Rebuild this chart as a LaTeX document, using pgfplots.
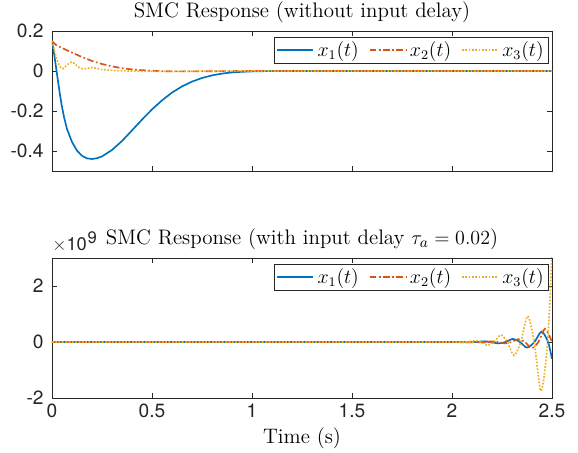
\documentclass[border=0pt]{standalone}
\usepackage{fontspec}
\usepackage{pgfplots}
\pgfplotsset{compat=1.18}
\newfontfamily\heros{TeX Gyre Heros}

\definecolor{mblue}{rgb}{0,0.447,0.741}
\definecolor{mred}{rgb}{0.85,0.325,0.098}
\definecolor{myellow}{rgb}{0.929,0.694,0.125}
\definecolor{axgray}{rgb}{0.15,0.15,0.15}

% state trajectories, no delay
\pgfplotstableread{
t      x1
0      0.15
0.01   0.09
0.02   0.02
0.03  -0.05
0.04  -0.12
0.05  -0.18
0.06  -0.23
0.075 -0.29
0.1   -0.355
0.125 -0.398
0.15  -0.424
0.175 -0.437
0.2   -0.44
0.225 -0.436
0.25  -0.427
0.3   -0.395
0.35  -0.35
0.4   -0.297
0.45  -0.243
0.5   -0.192
0.55  -0.147
0.6   -0.108
0.65  -0.077
0.7   -0.053
0.75  -0.035
0.8   -0.022
0.85  -0.013
0.9   -0.007
0.95  -0.004
1.0   -0.002
1.1    0
2.5    0
}\topxone
\pgfplotstableread{
t     x2
0     0.15
0.02  0.13
0.05  0.115
0.1   0.092
0.15  0.07
0.2   0.05
0.25  0.035
0.3   0.023
0.35  0.014
0.4   0.008
0.45  0.004
0.5   0.001
0.6  -0.002
0.7  -0.002
0.8  -0.001
1.0   0
2.5   0
}\topxtwo
\pgfplotstableread{
t      x3
0      0.15
0.015  0.09
0.03   0.04
0.045  0.015
0.055  0.012
0.07   0.025
0.09   0.042
0.1    0.045
0.115  0.035
0.135  0.018
0.155  0.01
0.175  0.012
0.2    0.018
0.22   0.014
0.25   0.007
0.3    0.003
0.35   0.001
0.45  -0.002
0.6   -0.002
0.8   -0.001
1.0    0
2.5    0
}\topxthree

% state trajectories with input delay (units of 1e9)
\pgfplotstableread{
t      x1
0      0
2.0    0
2.05   0
2.085 -0.01
2.12   0
2.16   0.025
2.195  0
2.23  -0.05
2.268  0
2.305  0.11
2.34   0
2.375 -0.2
2.412  0
2.448  0.37
2.48   0
2.5   -0.6
}\botxone
\pgfplotstableread{
t      x2
0      0
2.06   0
2.13  -0.01
2.163  0
2.197  0.02
2.23   0
2.264 -0.05
2.298  0
2.331  0.1
2.365  0
2.398 -0.22
2.432  0
2.465  0.47
2.5    0
}\botxtwo
\pgfplotstableread{
t      x3
0      0
1.97   0
2.04  -0.02
2.075  0
2.11   0.05
2.145  0
2.178 -0.12
2.211  0
2.244  0.25
2.277  0
2.31  -0.48
2.344  0
2.378  0.92
2.411  0
2.445 -1.75
2.478  0
2.5    3.2
}\botxthree

\pgfplotsset{
  smcaxis/.style={
    width=300pt, height=84pt, scale only axis,
    xmin=0, xmax=2.5,
    xtick={0,0.5,1,1.5,2,2.5},
    tick align=inside,
    axis line style={axgray, line width=0.45pt},
    tick style={axgray, line width=0.45pt},
    major tick length=3.2pt,
    /pgf/number format/assume math mode=true,
    ticklabel style={font=\heros\fontsize{11.5}{13}\selectfont, text=axgray},
    yticklabel style={xshift=-1.5pt},
    title style={font=\fontsize{12.6}{14}\selectfont, yshift=-4.5pt},
    label style={font=\fontsize{12.6}{14}\selectfont},
    legend columns=3,
    legend cell align=left,
    legend style={at={(0.994,0.957)}, anchor=north east, draw=axgray,
      line width=0.45pt, font=\fontsize{11.5}{13}\selectfont,
      inner xsep=1pt, inner ysep=0.5pt,
      /tikz/every even column/.append style={column sep=4pt}},
    legend image code/.code={\draw[##1] (0cm,0cm) -- (0.76cm,0cm);},
    every axis plot/.append style={line width=1pt},
  },
  s1/.style={mblue, solid},
  s2/.style={mred, dash pattern=on 4pt off 1.5pt on 1pt off 1.5pt},
  s3/.style={myellow, dash pattern=on 1pt off 1pt},
}

\begin{document}
\begin{tikzpicture}
\useasboundingbox (-31.2pt,18.6pt) rectangle (315.6pt,-253.2pt);

\begin{axis}[smcaxis,
  at={(0pt,0pt)}, anchor=north west,
  ymin=-0.5, ymax=0.2,
  ytick={-0.4,-0.2,0,0.2},
  xticklabels={},
  title={SMC Response (without input delay)},
]
\addplot[s1] table[x=t,y=x1] {\topxone};
\addplot[s2] table[x=t,y=x2] {\topxtwo};
\addplot[s3] table[x=t,y=x3] {\topxthree};
\legend{$x_1(t)$,$x_2(t)$,$x_3(t)$}
\end{axis}

\begin{axis}[smcaxis, name=bot,
  at={(0pt,-136.2pt)}, anchor=north west,
  ymin=-2, ymax=3,
  ytick={-2,0,2},
  xlabel={Time (s)},
  xlabel style={yshift=1pt},
  title={SMC Response (with input delay $\tau_a = 0.02$)},
]
\addplot[s1, smooth] table[x=t,y=x1] {\botxone};
\addplot[s2, smooth] table[x=t,y=x2] {\botxtwo};
\addplot[s3, smooth] table[x=t,y=x3] {\botxthree};
\legend{$x_1(t)$,$x_2(t)$,$x_3(t)$}
\end{axis}

% common exponent of the lower y axis
\node[anchor=base west, inner sep=0pt, text=axgray,
      font=\heros\fontsize{11}{13}\selectfont] (ex)
  at ([yshift=4.2pt]bot.north west) {$\times$10};
\node[anchor=base west, inner sep=0pt, text=axgray,
      font=\heros\fontsize{10}{12}\selectfont]
  at ([yshift=4.5pt]ex.base east) {9};
\end{tikzpicture}
\end{document}
